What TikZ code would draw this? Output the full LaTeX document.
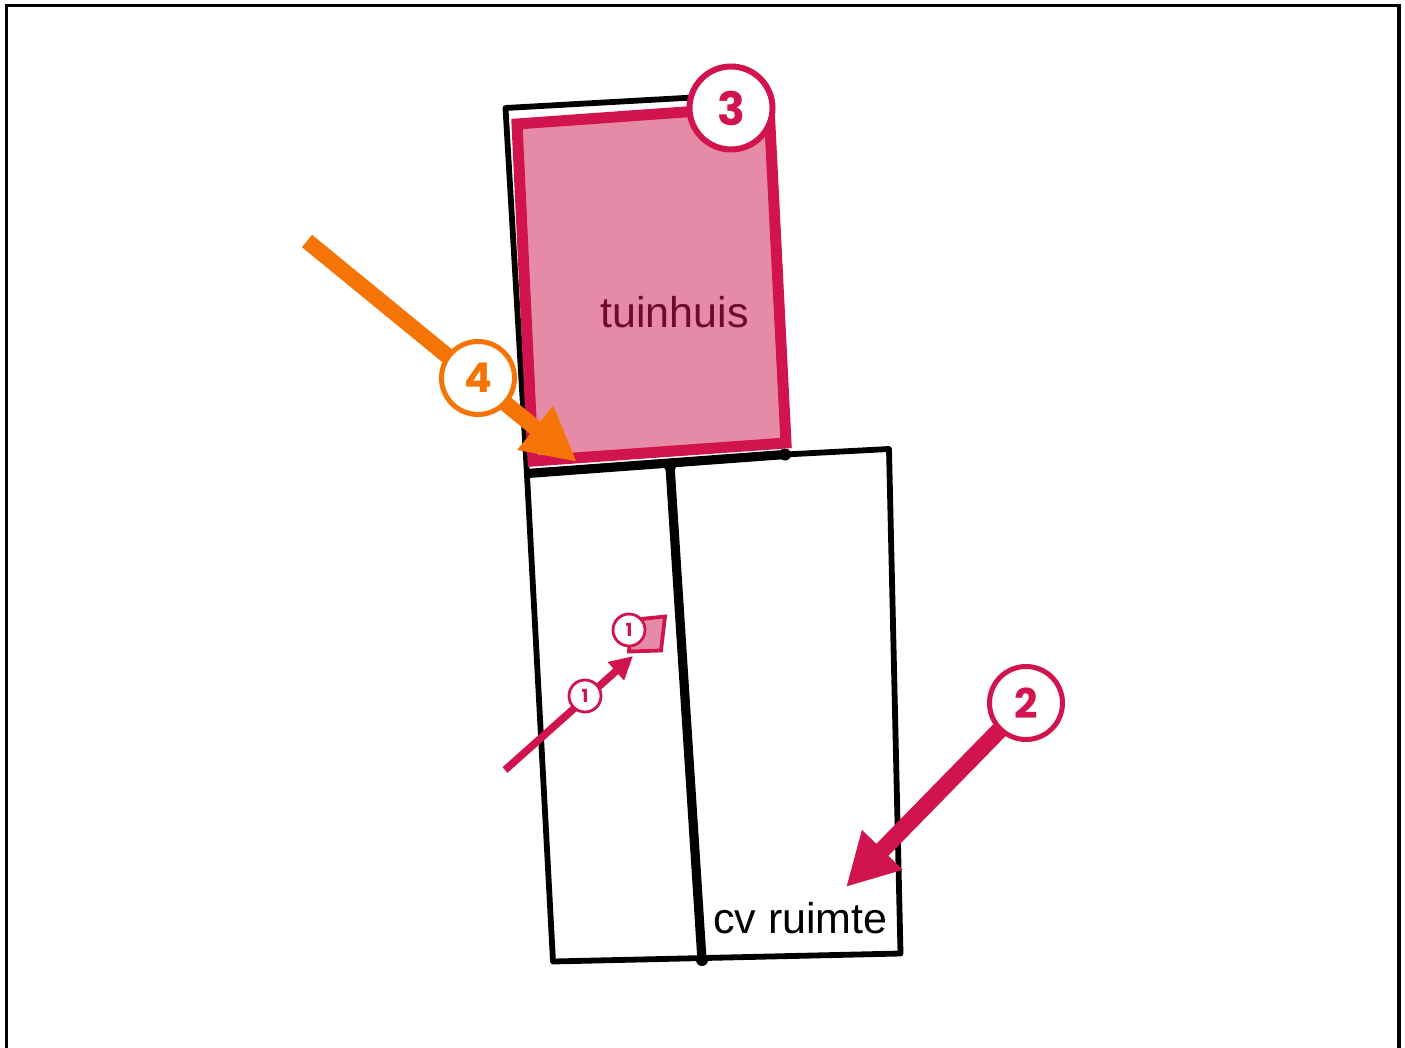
\documentclass[tikz,border=0pt]{standalone}
\usepackage{fontspec}
\setmainfont{Liberation Sans}
\newfontfamily\digitfont{Poppins}
\usetikzlibrary{arrows.meta}
\definecolor{crim}{HTML}{D1144E}
\definecolor{rosefill}{HTML}{E68BA7}
\definecolor{orng}{HTML}{F47506}
\definecolor{darkwine}{HTML}{6E0A2D}
\tikzset{
  wall/.style={draw=black,line width=5.8pt,line join=round,line cap=round},
  thickwall/.style={draw=black,line width=9.2pt},
  wallend/.style={circle,fill=black,inner sep=0pt,minimum size=12pt},
  badge/.style={circle,fill=white,inner sep=0pt,font=\digitfont\bfseries},
  crimbig/.style={badge,draw=crim,text=crim,line width=5pt,minimum size=73pt,font=\digitfont\bfseries\fontsize{41}{41}\selectfont},
  crimsmall/.style={badge,draw=crim,text=crim,line width=2.8pt,minimum size=32pt,font=\digitfont\bfseries\fontsize{18}{18}\selectfont},
  room/.style={fill=rosefill,draw=crim,line join=miter},
  lbl/.style={font=\fontsize{43}{43}\selectfont,anchor=base,inner sep=0pt}
}
\begin{document}
\begin{tikzpicture}[x=1pt,y=-1pt]
\useasboundingbox (0,0) rectangle (1405,1048);
% frame
\coordinate (fa) at (6.5,1052);
\coordinate (fb) at (6.5,5.5);
\coordinate (fc) at (1399,5.5);
\coordinate (fd) at (1399,1052);
\begin{scope}
\clip (0,0) rectangle (1405,1048);
\draw[draw=black,line width=3.5pt] (fa) -- (fb) -- (fc) -- (fd);
\end{scope}
% black outline
\coordinate (ua) at (527,475);
\coordinate (ub) at (505.5,108);
\coordinate (uc) at (720,96);
\coordinate (ud) at (889,449);
\coordinate (le) at (900.5,953.5);
\coordinate (lf) at (553,961.5);
\coordinate (ma) at (670,466);
\coordinate (mb) at (702,960);
\coordinate (mc) at (785,454.5);
\coordinate (tk) at (527,473.5);
\draw[wall] (ua) -- (ub) -- (uc);
\draw[wall] (mc) -- (ud) -- (le) -- (lf) -- (ua);
\draw[thickwall] (tk) -- (mc);
\draw[thickwall] (ma) -- (mb);
\node[wallend] (da) at (ma) {};
\node[wallend] (db) at (mc) {};
\node[wallend] (dc) at (mb) {};
% rooms
\draw[room,line width=11pt] (517,124) -- (769,106) -- (786,443) -- (533,461) -- cycle;
\draw[room,line width=3.8pt] (631,620) -- (665,616.5) -- (661,650.5) -- (629,651.5) -- cycle;
% text
\node[lbl,text=darkwine] (tuin) at (674.5,328) {tuinhuis};
\node[lbl,text=black] (cv) at (800.5,933) {cv ruimte};
% arrows
\coordinate (oa) at (307,241);
\coordinate (ot) at (577,462);
\coordinate (ca) at (1026,703);
\coordinate (ct) at (846,887);
\coordinate (sa) at (505,770);
\coordinate (st) at (633,656);
\draw[orng,line width=16pt,-{Triangle[length=54pt,width=53pt,fill=orng]}] (oa) -- (ot);
\draw[crim,line width=17pt,-{Triangle[length=52pt,width=53pt,fill=crim]}] (ca) -- (ct);
\draw[crim,line width=7.5pt,-{Triangle[length=23pt,width=23pt,fill=crim]}] (sa) -- (st);
% badges
\node[crimbig,line width=6pt,minimum size=83pt,font=\digitfont\bfseries\fontsize{46}{46}\selectfont] (n3) at (731,108) {\raisebox{-1.5pt}{3}};
\node[crimbig] (n2) at (ca) {\raisebox{-1.5pt}{2}};
\node[crimbig,draw=orng,text=orng] (n4) at (478,378) {4};
\node[crimsmall] (n1a) at (629,630) {1};
\node[crimsmall] (n1b) at (585,696) {1};
\end{tikzpicture}
\end{document}
